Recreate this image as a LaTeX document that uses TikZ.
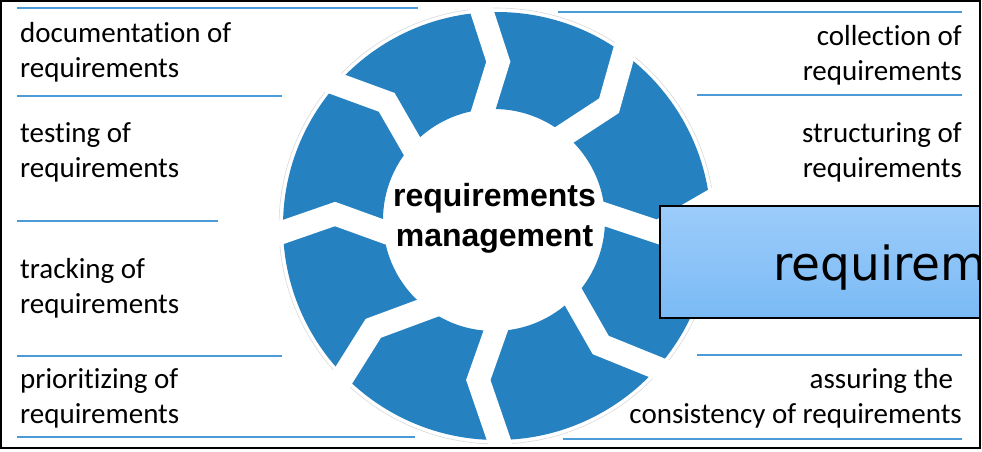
\documentclass[tikz,border=0pt]{standalone}
\usepackage{fontspec}
\setmainfont{Carlito}[Ligatures=NoCommon]
\newfontfamily\centerfont{Liberation Sans}
\newfontfamily\boxfont{DejaVu Sans}
\usetikzlibrary{calc}
\definecolor{ringblue}{RGB}{38,129,192}
\definecolor{lineblue}{RGB}{75,155,215}
\definecolor{boxtop}{RGB}{156,204,250}
\definecolor{boxbot}{RGB}{122,186,245}
\begin{document}
\begin{tikzpicture}[x=1pt,y=-1pt,
  lab/.style={font=\fontsize{29}{35}\selectfont, inner sep=0pt},
  sepline/.style={lineblue, line width=2pt},
  gapband/.style={white, line width=23pt, line join=miter}]
\useasboundingbox (0,0) rectangle (982,451);
\begin{scope}
\clip (0,0) rectangle (980,449);
% separator lines
\draw[sepline] (17,8) -- (418,8);
\draw[sepline] (17,96) -- (282,96);
\draw[sepline] (17,221) -- (218,221);
\draw[sepline] (17,356) -- (282,356);
\draw[sepline] (17,437) -- (415,437);
\draw[sepline] (558,12) -- (962,12);
\draw[sepline] (697,95) -- (962,95);
\draw[sepline] (697,355) -- (962,355);
\draw[sepline] (563,439) -- (962,439);
% ring
\coordinate (oc) at (497,226);
\coordinate (ic) at (494,220);
\draw[gray!30, line width=0.6pt] (oc) circle (218pt);
\fill[ringblue, even odd rule] (oc) circle (214pt) (ic) circle (111pt);
\begin{scope}
\clip (oc) circle (222pt);
\foreach \ix/\iy/\kx/\ky/\ox/\oy in {483.3/110/498.3/61.7/481.7/10.7,
                      565.7/134/609/105.7/624/52.3,
                      604/214/658/232/710/202,
                      574/298.3/600.7/345/655.7/367.3,
                      495.7/330.7/478.3/380/498.3/438.3,
                      427.3/308.3/373.3/328.3/345/373.3,
                      384/231.7/335/214/284/231.7,
                      411.7/145.7/386.7/102.3/336.7/84}{
  \draw[gapband] ($(\kx,\ky)!1.4!(\ix,\iy)$) -- (\kx,\ky) -- ($(\kx,\ky)!1.4!(\ox,\oy)$);
}
\end{scope}
% centre text
\node[font=\centerfont\bfseries\fontsize{32}{40}\selectfont, align=center, inner sep=0pt, anchor=base] (core) at (494.5,246) {requirements\\management};
% labels left
\node[lab, anchor=base west, align=left] (doc) at (20,77) {documentation of\\requirements};
\node[lab, anchor=base west, align=left] (test) at (20,177) {testing of\\requirements};
\node[lab, anchor=base west, align=left] (track) at (20,313) {tracking of\\requirements};
\node[lab, anchor=base west, align=left] (prio) at (20,423) {prioritizing of\\requirements};
% labels right
\node[lab, anchor=base east, align=right] (coll) at (962,80) {collection of\\requirements};
\node[lab, anchor=base east, align=right] (struct) at (962,177) {structuring of\\requirements};
\node[lab, anchor=base east, align=right] (assure) at (962,423) {assuring the\hspace*{0.3em}\\consistency of requirements};
% overlay box
\node[draw=black, line width=1.5pt, top color=boxtop, bottom color=boxbot, anchor=north west, minimum width=340pt, minimum height=112pt, inner sep=0pt] (box) at (659,205) {};
\node[font=\boxfont\fontsize{47}{55}\selectfont, anchor=base west, inner sep=0pt] (boxtext) at (773,280) {requirem};
\end{scope}
\draw[line width=2pt] (1,1) rectangle (980,448);
\end{tikzpicture}
\end{document}
